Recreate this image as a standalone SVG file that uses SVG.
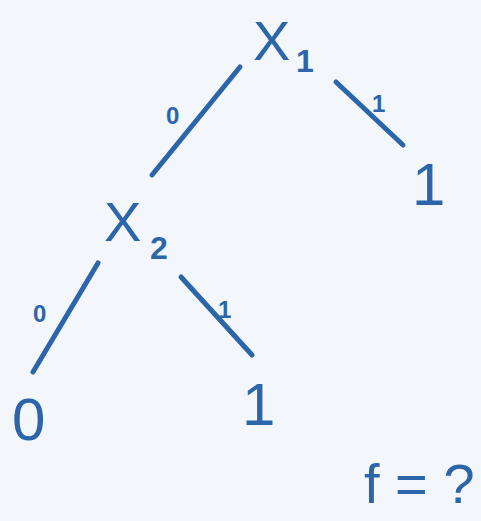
<svg xmlns="http://www.w3.org/2000/svg" width="481" height="521" viewBox="0 0 481 521">
<style>
.t{font-family:"Liberation Sans","DejaVu Sans",sans-serif;fill:#2c65a9}
.big{font-size:56px}
.leaf{font-size:60px}
.sub{font-size:32px;font-weight:bold}
.lab{font-size:24px;font-weight:bold}
.e{stroke:#2c65a9;stroke-width:5;stroke-linecap:round;fill:none}
</style>
<rect width="481" height="521" fill="#f3f7fb"/>
<g id="connectors">
<line class="e" x1="240" y1="67" x2="152" y2="175"/>
<line class="e" x1="336" y1="82" x2="403" y2="145"/>
<line class="e" x1="98" y1="263" x2="33" y2="372"/>
<line class="e" x1="181" y1="277" x2="252" y2="355"/>
<text class="t lab" x="166" y="124">0</text>
<text class="t lab" x="372" y="112">1</text>
<text class="t lab" x="33" y="322">0</text>
<text class="t lab" x="218" y="318">1</text>
</g>
<g id="x1">
<text class="t big" x="253" y="60">X</text>
<text class="t sub" x="296" y="72">1</text>
</g>
<g id="x2">
<text class="t big" x="104" y="241">X</text>
<text class="t sub" x="150" y="259">2</text>
</g>
<g id="leaf1top">
<text class="t leaf" x="412" y="205">1</text>
</g>
<g id="leaf0">
<text class="t leaf" x="12" y="440">0</text>
</g>
<g id="leaf1">
<text class="t leaf" x="242" y="425">1</text>
</g>
<g id="fq">
<text class="t big" x="364" y="503">f = ?</text>
</g>
</svg>
